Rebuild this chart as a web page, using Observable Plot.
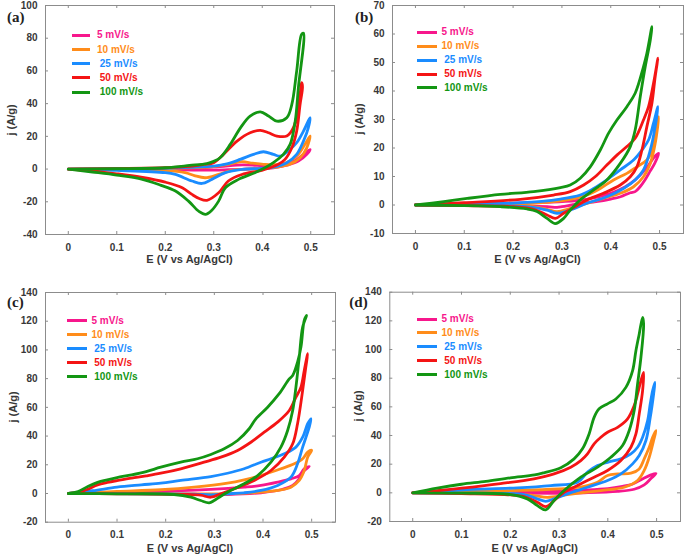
<!DOCTYPE html>
<html><head><meta charset="utf-8">
<script src="https://cdn.jsdelivr.net/npm/d3@7"></script>
<script src="https://cdn.jsdelivr.net/npm/@observablehq/plot@0.6"></script>
<style>
html,body{margin:0;padding:0;background:#fff;}
#root{position:relative;width:685px;height:556px;overflow:hidden;font-family:"Liberation Sans",Arial,sans-serif;background:#fff;}
.pn{position:absolute;}
.ttl{position:absolute;font-weight:bold;font-size:11px;line-height:12px;color:#383838;white-space:nowrap;}
.tag{position:absolute;font-family:"Liberation Serif","Times New Roman",serif;font-weight:bold;font-size:15px;line-height:15px;color:#222;}
.lg{position:absolute;font-weight:bold;font-size:10px;line-height:12px;white-space:pre;}
.lgl{position:absolute;height:3px;}
</style></head><body><div id="root"></div>
<script>
// ---------- data ----------
const rates = ["5 mV/s", "10 mV/s", "25 mV/s", "50 mV/s", "100 mV/s"];
const legendText = ["5 mV/s", "10 mV/s", " 25 mV/s", " 50 mV/s", " 100 mV/s"];
const colors = ["#f7178c", "#ff8c1a", "#1a8cff", "#f41414", "#139613"];
const xTicks = [0, 0.1, 0.2, 0.3, 0.4, 0.5];
const xDomain = [-0.047, 0.549];
const xTitle = "E (V vs Ag/AgCl)";
const yTitle = "j (A/g)";
const panelTags = ["(a)", "(b)", "(c)", "(d)"];

const yTicksA = [-40, -20, 0, 20, 40, 60, 80, 100];
const yTicksB = [-10, 0, 10, 20, 30, 40, 50, 60, 70];
const yTicksC = [-20, 0, 20, 40, 60, 80, 100, 120, 140];
const yTicksD = [-20, 0, 20, 40, 60, 80, 100, 120, 140];

// panel (a)
const a5 = [[0,0],[0.1,0.1],[0.2,0.4],[0.3,1.3],[0.36,2.6],[0.39,2.2],[0.423,1.8],[0.447,3.2],[0.468,5.3],[0.485,9],[0.4986,12],
  [0.4918,9],[0.4745,4.9],[0.4506,2.4],[0.423,0.8],[0.38,0.1],[0.33,-0.4],[0.28,-0.7],[0.2,-0.4],[0.1,-0.1],[0,0]];
const a10 = [[0,0],[0.1,0.1],[0.2,0.4],[0.3,1.5],[0.33,2.9],[0.358,4.5],[0.38,3.6],[0.4025,2.9],[0.437,2.9],[0.457,4.9],[0.4745,9],[0.488,15.1],[0.4986,20.2],
  [0.4918,13],[0.478,6.9],[0.457,2.9],[0.43,1.2],[0.4,0.4],[0.3374,-0.8],[0.31,-3.3],[0.2825,-5.3],[0.26,-4],[0.241,-2.2],[0.2,-0.8],[0.1,-0.2],[0,0]];
const a25 = [[0,0],[0.1,0.2],[0.2,0.5],[0.25,1],[0.3,1.8],[0.327,3.2],[0.3545,5.9],[0.382,9],[0.4025,10.6],[0.423,9],[0.437,7.9],[0.457,12],[0.471,16.1],[0.485,23.2],[0.4986,31.4],
  [0.495,25.2],[0.485,17.1],[0.471,9],[0.4506,3.9],[0.423,1.2],[0.399,0.4],[0.358,-0.2],[0.324,-2.2],[0.296,-6.3],[0.2757,-8.8],[0.255,-7.3],[0.221,-3.3],[0.2,-2.2],[0.1,-0.8],[0,0]];
const a50 = [[0,0],[0.1,0.3],[0.2,0.8],[0.25,1.6],[0.28,2.8],[0.3,3.9],[0.32,9],[0.348,17.1],[0.375,22.2],[0.396,23.6],[0.413,22.2],[0.43,20.2],[0.4506,20.2],[0.464,25.2],[0.4745,37.5],[0.4815,52.8],
  [0.483,50],[0.478,39.5],[0.471,23.2],[0.461,13],[0.447,5.9],[0.433,2.9],[0.399,-0.8],[0.358,-3.3],[0.33,-7.3],[0.31,-14.5],[0.286,-19.1],[0.27,-18],[0.255,-15.5],[0.235,-11.4],[0.2,-8],[0.15,-5],[0.1,-2.9],[0.05,-1.2],[0,0]];
const a100 = [[0,0],[0.1,0.2],[0.2,0.8],[0.25,2.2],[0.286,3.4],[0.3,4.8],[0.313,6.9],[0.334,15.1],[0.355,25.2],[0.375,32.4],[0.396,35],[0.413,32.4],[0.43,29.3],[0.4506,31.4],[0.461,39.5],[0.471,59.9],[0.481,82.3],[0.485,83],
  [0.4745,49.7],[0.468,29.3],[0.4575,15.1],[0.4436,9],[0.423,3.9],[0.389,-1.7],[0.351,-6.3],[0.324,-11.4],[0.31,-19.6],[0.295,-25.5],[0.283,-27.7],[0.27,-26],[0.248,-19.6],[0.221,-13.4],[0.19,-9.8],[0.149,-6],[0.1,-3.7],[0.05,-1.8],[0,0]];

// panel (b)
const b5 = [[0,0],[0.1,0.2],[0.2,0.6],[0.3,1.2],[0.35,2],[0.4,4.1],[0.43,6.4],[0.45,8.8],[0.47,12.3],[0.48,14.6],[0.49,17],[0.498,18.1],
  [0.49,14.6],[0.48,11.7],[0.47,8.8],[0.46,6.4],[0.45,4.7],[0.44,4.3],[0.42,2.9],[0.4,2.1],[0.37,1.2],[0.34,0.6],[0.32,0],[0.3,-0.6],[0.29,-0.8],[0.27,-0.6],[0.2,-0.2],[0,0]];
const b10 = [[0,0],[0.1,0.3],[0.215,0.4],[0.317,2],[0.3513,3.5],[0.3786,5.8],[0.4058,8.8],[0.433,11.1],[0.4536,13.4],[0.474,15.8],[0.4843,19.3],[0.491,26.3],[0.498,31],
  [0.491,21.6],[0.481,14.6],[0.467,9.9],[0.4467,6.4],[0.4195,4.1],[0.385,2.3],[0.3513,0.6],[0.317,-1.2],[0.29,-2.3],[0.2695,-1.5],[0.24,-0.6],[0.15,-0.1],[0,0]];
const b25 = [[0,0],[0.1,0.5],[0.215,0.8],[0.2967,2.1],[0.3376,3.5],[0.365,5.8],[0.392,8.8],[0.4195,12.3],[0.4467,15.8],[0.4639,19.3],[0.4774,22.8],[0.4876,28.7],[0.4966,34.5],
  [0.491,27.5],[0.481,19.3],[0.467,12.3],[0.45,8.8],[0.426,5.8],[0.392,2.9],[0.3513,0.6],[0.317,-1.8],[0.29,-2.9],[0.2695,-1.8],[0.24,-0.8],[0.15,-0.2],[0,0]];
const b50 = [[0,0],[0.1,0.8],[0.215,2],[0.283,3.5],[0.317,4.7],[0.3445,7],[0.368,9.9],[0.392,14],[0.4127,17.5],[0.433,20.5],[0.45,23.4],[0.467,29.8],[0.4774,34.5],[0.4876,42.7],[0.4966,51.5],
  [0.491,45],[0.4843,35.7],[0.474,27.5],[0.4639,19.3],[0.4536,13.4],[0.44,9.9],[0.4195,7],[0.385,4.1],[0.3513,1.8],[0.327,-0.6],[0.3035,-2.9],[0.2865,-4.7],[0.2695,-3.5],[0.242,-1.5],[0.2,-0.6],[0.1,-0.2],[0,0]];
const b100 = [[0,0],[0.058,1.2],[0.106,2.3],[0.174,3.7],[0.242,4.7],[0.297,6.1],[0.317,7],[0.3376,9.4],[0.358,13.4],[0.3786,19.3],[0.3956,25.2],[0.4127,29.8],[0.433,34.5],[0.45,39.2],[0.467,48.5],[0.474,53.2],[0.4843,62.6],
  [0.481,57.9],[0.4706,48.5],[0.4604,38],[0.45,26.3],[0.44,20.5],[0.4195,14.6],[0.392,8.8],[0.365,5.3],[0.3376,1.8],[0.317,-1.8],[0.3035,-4.7],[0.2865,-6.5],[0.2695,-4.7],[0.249,-2.3],[0.2286,-1.4],[0.174,-0.6],[0.1,-0.2],[0,0]];

// panel (c)
const c5 = [[0,0],[0.1,0.7],[0.19,1.4],[0.2928,2.8],[0.3613,4.4],[0.3957,5.6],[0.43,7.9],[0.4574,10.2],[0.4745,12.5],[0.4848,17.2],[0.495,18.8],
  [0.4848,16],[0.4745,10.2],[0.461,5.6],[0.4368,2.6],[0.3957,0.5],[0.327,-0.7],[0.2,-0.2],[0,0]];
const c10 = [[0,0],[0.1,1.4],[0.19,2.6],[0.2585,4.4],[0.327,7.2],[0.3613,9.5],[0.3957,12.5],[0.4368,17.2],[0.4642,20.7],[0.4815,24.2],[0.4918,28.8],[0.5,30],
  [0.4918,25.3],[0.4848,16],[0.4745,9.1],[0.4574,4.4],[0.43,2.1],[0.3957,0.9],[0.327,-0.2],[0.2,-0.2],[0,0]];
const c25 = [[0,0],[0.05,1.9],[0.1,4.4],[0.15,6],[0.19,7.2],[0.231,9.1],[0.2928,11.8],[0.327,14.1],[0.3613,17.2],[0.3957,21.8],[0.4163,24.2],[0.4437,27.7],[0.4677,32.3],[0.4815,39.2],[0.4918,48.6],[0.4986,52],
  [0.495,46.2],[0.4815,32.3],[0.471,20.7],[0.4574,11.4],[0.43,5.6],[0.3957,2.1],[0.3613,0.5],[0.327,-0.2],[0.2928,-0.9],[0.2585,-0.4],[0.15,-0.2],[0,0]];
const c50 = [[0,0],[0.02,0.7],[0.04,3],[0.06,6],[0.08,7.7],[0.1,9],[0.13,10.7],[0.16,12.3],[0.19,14.1],[0.231,17.2],[0.279,21.8],[0.3134,25.3],[0.3477,30],[0.3751,35.7],[0.4025,42.7],[0.43,49.7],[0.454,57.8],[0.4677,67.1],[0.478,74.1],[0.4848,85.7],[0.4918,97.4],
  [0.488,88],[0.4815,71.8],[0.471,48.6],[0.461,34.6],[0.4437,25.3],[0.4163,16],[0.382,9.1],[0.3408,3.3],[0.3134,-0.2],[0.2928,-2.6],[0.272,-1.2],[0.24,-0.6],[0.1,-0.2],[0,0]];
const c100 = [[0,0],[0.02,1.4],[0.04,4.9],[0.06,7.7],[0.08,9.5],[0.1,11.1],[0.13,13],[0.16,15.3],[0.19,18.3],[0.231,21.8],[0.2654,24.2],[0.2928,27.2],[0.3202,31.1],[0.3477,36.9],[0.3716,45.1],[0.3854,52],[0.4095,60.1],[0.4333,69.5],[0.454,79.9],[0.461,82.2],[0.471,91.5],[0.478,102],[0.4848,120.6],[0.4897,124],
  [0.4815,115.9],[0.4745,95],[0.4677,74.1],[0.461,57.8],[0.4506,43.9],[0.4368,32.3],[0.4163,21.8],[0.389,12.5],[0.3613,6.8],[0.327,0.9],[0.31,-2.6],[0.2996,-4.9],[0.2893,-6.5],[0.272,-4.9],[0.2516,-2.6],[0.2173,-0.7],[0.1,-0.2],[0,0]];

// panel (d)
const d5 = [[0,0],[0.1,0.5],[0.2,0.9],[0.3,1.4],[0.35,2],[0.4,3],[0.43,4.5],[0.45,6],[0.47,9.5],[0.4884,12.5],[0.4987,13.5],
  [0.4884,10],[0.4746,5.5],[0.4541,2.5],[0.42,1],[0.3514,0],[0.3,-0.3],[0.2,-0.2],[0,0]];
const d10 = [[0,0],[0.1,0.9],[0.2,1.5],[0.2829,2.5],[0.33,3.5],[0.3514,4.5],[0.3789,7.4],[0.3994,12.1],[0.42,13.2],[0.4473,13.7],[0.4644,16.7],[0.4746,23.7],[0.4849,31.8],[0.4919,38.8],[0.4987,43.4],
  [0.4939,36.5],[0.4849,24.8],[0.4746,15.6],[0.461,8.6],[0.4336,3.9],[0.3857,1.6],[0.3172,-1.2],[0.2761,-3.1],[0.2486,-1.9],[0.2,-0.5],[0,0]];
const d25 = [[0,0],[0.1,2.1],[0.2145,3.5],[0.2829,5.1],[0.3378,7.4],[0.3583,14.4],[0.3789,19],[0.3994,21.3],[0.4268,23.7],[0.4473,27.2],[0.461,31.8],[0.4713,38.8],[0.4816,50.4],[0.487,62.1],[0.4919,71.3],[0.4966,77.1],
  [0.4939,69],[0.487,52.7],[0.4781,36.5],[0.4644,26],[0.4508,20.2],[0.4268,13.2],[0.3994,8.6],[0.3583,3.9],[0.3172,-0.7],[0.2897,-4.2],[0.2727,-5.9],[0.2556,-4.2],[0.228,-1.2],[0.15,-0.3],[0,0]];
const d50 = [[0,0],[0.05,1.6],[0.1,3.3],[0.18,6.5],[0.2486,9.8],[0.2897,13.2],[0.324,17.9],[0.3446,22.5],[0.3583,27.2],[0.3719,34.2],[0.3857,38.8],[0.3994,42.3],[0.42,45.7],[0.4405,51.6],[0.4541,60.9],[0.461,69],[0.4679,78.3],[0.4734,84.1],
  [0.4713,71.3],[0.4644,55.1],[0.4576,41.1],[0.4473,31.8],[0.4268,22.5],[0.3994,15.6],[0.3719,10.9],[0.3378,5.1],[0.3103,0.4],[0.2897,-5.4],[0.2727,-9.6],[0.2556,-6.6],[0.228,-2.6],[0.2,-1.4],[0.1,-0.5],[0,0]];
const d100 = [[0,0],[0.05,3.3],[0.1,6],[0.15,8],[0.2,10.5],[0.25,12.5],[0.2692,14],[0.3035,17.5],[0.3308,23.7],[0.348,30.7],[0.3616,41.1],[0.3719,52.7],[0.3822,58.6],[0.3994,62.1],[0.4165,65.5],[0.437,73.6],[0.4508,85.3],[0.4576,99.2],[0.4644,110.9],[0.4713,122.5],
  [0.4734,117.9],[0.4679,94.6],[0.461,76],[0.4541,57.4],[0.4438,43.4],[0.4302,33],[0.4062,24.8],[0.3789,17.9],[0.3446,10.9],[0.3103,1.6],[0.2897,-5.4],[0.2727,-11.9],[0.2556,-8.9],[0.235,-4.2],[0.2007,-1.2],[0.1,-0.2],[0,0]];

const panels = [
  {series: [a5, a10, a25, a50, a100], yDomain: [-40, 100], yTicks: yTicksA},
  {series: [b5, b10, b25, b50, b100], yDomain: [-10, 70], yTicks: yTicksB},
  {series: [c5, c10, c25, c50, c100], yDomain: [-20, 140], yTicks: yTicksC},
  {series: [d5, d10, d25, d50, d100], yDomain: [-20, 140], yTicks: yTicksD}
];

// ---------- layout (pixels) ----------
const layouts = [
  {left: 0,   top: 0,   width: 342, height: 276, mt: 5,   mr: 8, mb: 42, ml: 45,
   xTitleY: 259, yTitleX: 11,  tagX: 7,   tagTop: 9.5,
   lg: {lineX: 72, lineW: 18, textX: 97, y0: 35.3, dy: 14.2}},
  {left: 345, top: 0,   width: 340, height: 276, mt: 5,   mr: 2, mb: 43, ml: 47,
   xTitleY: 259, yTitleX: 359, tagX: 355, tagTop: 9.5,
   lg: {lineX: 417, lineW: 20, textX: 441.5, y0: 32.3, dy: 13.9}},
  {left: 0,   top: 287, width: 342, height: 269, mt: 5,   mr: 7, mb: 34.3, ml: 45,
   xTitleY: 547.5, yTitleX: 12.5, tagX: 7,   tagTop: 294.5,
   lg: {lineX: 67, lineW: 20, textX: 91.5, y0: 320.8, dy: 14}},
  {left: 345, top: 287, width: 340, height: 269, mt: 4.7, mr: 5, mb: 35, ml: 44.3,
   xTitleY: 547.5, yTitleX: 357.5, tagX: 349.3, tagTop: 294.5,
   lg: {lineX: 417, lineW: 20, textX: 441.5, y0: 319, dy: 13.9}}
];

const root = document.getElementById("root");
const frameColor = "#8c8c8c";

function el(cls, css, text) {
  const d = document.createElement("div");
  d.className = cls;
  Object.assign(d.style, css);
  if (text != null) d.textContent = text;
  root.appendChild(d);
  return d;
}

panels.forEach((P, pi) => {
  const L = layouts[pi];
  const rows = P.series.flatMap((pts, i) => pts.map(([E, j]) => ({E, j, rate: rates[i]})));
  const fw = L.width - L.ml - L.mr, fh = L.height - L.mt - L.mb;
  const svg = Plot.plot({
    width: L.width, height: L.height,
    marginTop: L.mt, marginRight: L.mr, marginBottom: L.mb, marginLeft: L.ml,
    style: {fontFamily: "'Liberation Sans', Arial, sans-serif", fontSize: "10px", fontWeight: "bold", color: "#383838", background: "transparent", overflow: "visible"},
    x: {domain: xDomain, ticks: xTicks, tickSize: 0, tickPadding: 9, tickFormat: d => String(d), label: null},
    y: {domain: P.yDomain, ticks: P.yTicks, tickSize: 0, tickPadding: 8, tickFormat: d => String(d), label: null},
    color: {domain: rates, range: colors},
    marks: [
      Plot.frame({stroke: frameColor}),
      Plot.tickX(xTicks, {x: d => d, stroke: frameColor, insetTop: fh - 3}),
      Plot.tickX(xTicks, {x: d => d, stroke: frameColor, insetBottom: fh - 3}),
      Plot.tickY(P.yTicks, {y: d => d, stroke: frameColor, insetRight: fw - 3}),
      Plot.tickY(P.yTicks, {y: d => d, stroke: frameColor, insetLeft: fw - 3}),
      Plot.line(rows, {x: "E", y: "j", z: "rate", stroke: "rate", strokeWidth: 2.8, curve: "catmull-rom", strokeLinejoin: "round", strokeLinecap: "round"})
    ]
  });
  svg.classList.add("pn");
  Object.assign(svg.style, {position: "absolute", left: L.left + "px", top: L.top + "px"});
  root.appendChild(svg);

  const fcx = L.left + L.ml + fw / 2;
  const fcy = L.top + L.mt + fh / 2;
  el("ttl", {left: fcx + "px", top: (L.xTitleY - 6) + "px", transform: "translateX(-50%)"}, xTitle);
  el("ttl", {left: L.yTitleX + "px", top: fcy + "px", transform: "translate(-50%,-50%) rotate(-90deg)"}, yTitle);
  el("tag", {left: L.tagX + "px", top: L.tagTop + "px"}, panelTags[pi]);

  legendText.forEach((t, i) => {
    const y = L.lg.y0 + i * L.lg.dy;
    el("lgl", {left: L.lg.lineX + "px", top: (y - 1.5) + "px", width: L.lg.lineW + "px", background: colors[i]});
    el("lg", {left: L.lg.textX + "px", top: (y - 6) + "px", color: colors[i]}, t);
  });
});
</script></body></html>
